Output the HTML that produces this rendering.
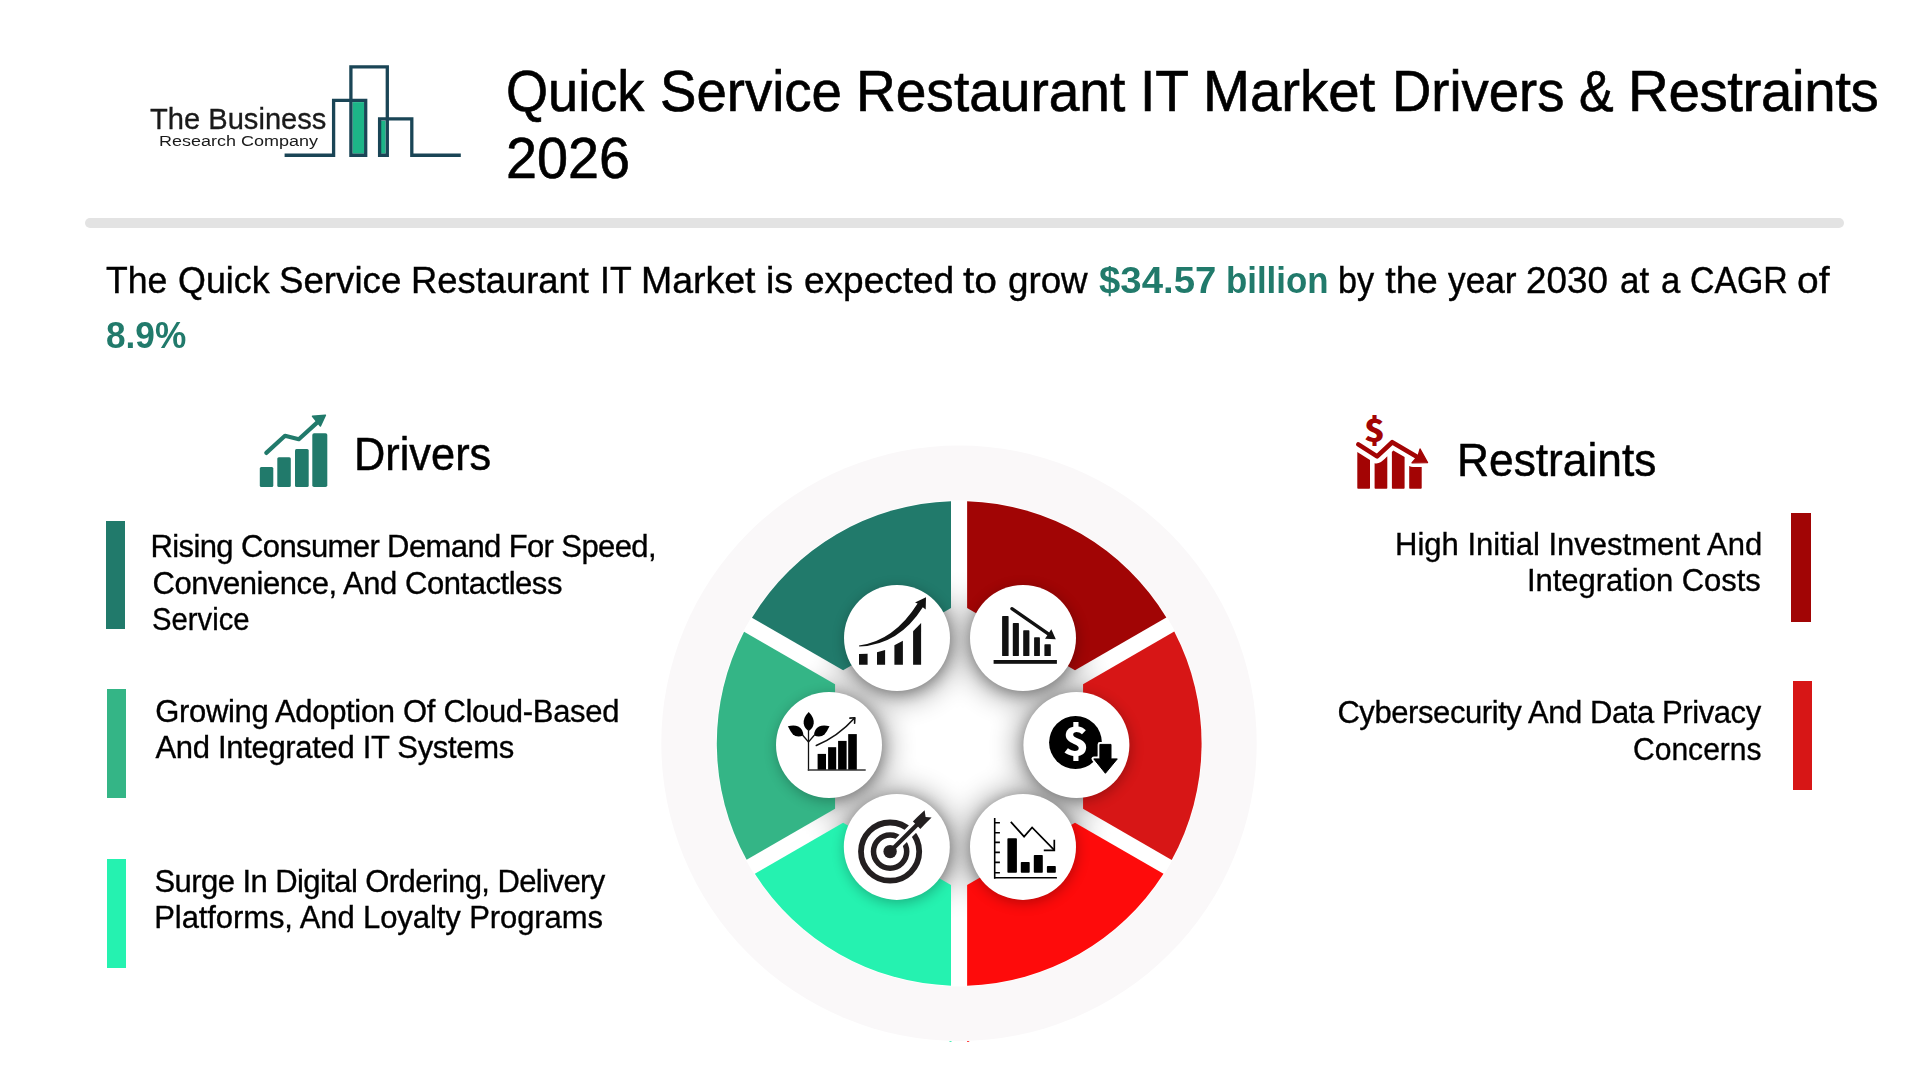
<!DOCTYPE html>
<html lang="en">
<head>
<meta charset="utf-8">
<title>Quick Service Restaurant IT Market Drivers &amp; Restraints 2026</title>
<style>
html,body{margin:0;padding:0;background:#fff;}
body{width:1920px;height:1080px;position:relative;overflow:hidden;font-family:"Liberation Sans",sans-serif;}
.abs{position:absolute;}
.t{position:absolute;transform-origin:0 0;white-space:nowrap;line-height:1;font-family:"Liberation Sans",sans-serif;-webkit-text-stroke:0.011em currentColor;}
.b{-webkit-text-stroke:0;}
.bar{position:absolute;}
</style>
</head>
<body>
<!-- divider -->
<div class="abs" style="left:85px;top:218px;width:1759px;height:9.5px;border-radius:5px;background:#e3e3e3"></div>

<!-- logo -->
<svg class="abs" style="left:280px;top:55px" width="190" height="110" viewBox="280 55 190 110">
  <rect x="352.5" y="102.1" width="11.5" height="51.5" fill="#1db588"/>
  <rect x="381" y="120.7" width="4.6" height="32.9" fill="#1db588"/>
  <g fill="none" stroke="#1a4556" stroke-width="3.3" stroke-linejoin="miter" stroke-linecap="butt">
    <path d="M284.6,155.25 H333.6 V100.45 H365.7 V155.25 H350.9 V66.95 H387.3 V155.25 H379.6 V118.9 H411.8 V155.25 H460.8"/>
  </g>
</svg>

<!-- drivers icon -->
<svg class="abs" style="left:250px;top:405px" width="90" height="90" viewBox="250 405 90 90">
  <g fill="#217a6b">
    <rect x="259.8" y="467" width="13.5" height="20.1" rx="1.5"/>
    <rect x="277.3" y="457.3" width="13.5" height="29.8" rx="1.5"/>
    <rect x="295" y="449" width="13.7" height="38.1" rx="1.5"/>
    <rect x="312.3" y="433.2" width="15" height="53.9" rx="1.8"/>
    <path d="M325.4,415.2 L312.5,416.3 L320.4,425.9 Z" stroke="#217a6b" stroke-width="1.5" stroke-linejoin="round"/>
  </g>
  <path d="M266.3,452.9 L285,435.8 L298.8,439.2 L319,420.9" fill="none" stroke="#217a6b" stroke-width="4.2" stroke-linecap="round" stroke-linejoin="round"/>
</svg>

<!-- restraints icon -->
<svg class="abs" style="left:1345px;top:405px" width="90" height="90" viewBox="1345 405 90 90">
  <g fill="#a30404">
    <path d="M1357.3,452.1 L1370,460 V488 Q1370,488.75 1369.2,488.75 H1358.1 Q1357.3,488.75 1357.3,488 Z"/>
    <path d="M1374.6,463.3 Q1379.5,465 1387.3,456.25 V488 Q1387.3,488.75 1386.5,488.75 H1375.4 Q1374.6,488.75 1374.6,488 Z"/>
    <path d="M1391.9,452 L1393.3,450.4 L1404.6,457 V488 Q1404.6,488.75 1403.8,488.75 H1392.7 Q1391.9,488.75 1391.9,488 Z"/>
    <path d="M1409.2,466 Q1411,467 1413,467 H1421.7 V488 Q1421.7,488.75 1420.9,488.75 H1410 Q1409.2,488.75 1409.2,488 Z"/>
    <path d="M1427.6,462.6 L1420,448.9 L1418.2,455.5 L1411.9,462.8 Z" stroke="#a30404" stroke-width="1.2" stroke-linejoin="round"/>
  </g>
  <path d="M1358.3,444.4 L1377.1,456.4 L1392.2,442.2 L1419,458" fill="none" stroke="#a30404" stroke-width="4.6" stroke-linecap="round" stroke-linejoin="round"/>
  <text transform="translate(1374.6 0) scale(1.1 1) translate(-1374.6 0)" x="1374.6" y="441.6" text-anchor="middle" font-family="Noto Sans CJK JP, Liberation Sans, sans-serif" font-weight="900" font-size="31.6" fill="#a30404">$</text>
</svg>

<!-- left bars -->
<div class="bar" style="left:105.5px;top:520.75px;width:19.5px;height:108.5px;background:#217a6b"></div>
<div class="bar" style="left:106.75px;top:688.75px;width:19px;height:109.25px;background:#34b586"></div>
<div class="bar" style="left:106.75px;top:859.25px;width:19px;height:108.75px;background:#25f2b0"></div>
<!-- right bars -->
<div class="bar" style="left:1791.25px;top:513px;width:19.25px;height:108.75px;background:#a10505"></div>
<div class="bar" style="left:1792.5px;top:681.25px;width:19.5px;height:108.75px;background:#d71616"></div>

<svg class="abs" style="left:0;top:0" width="1920" height="1080" viewBox="0 0 1920 1080">
<defs><filter id="sh" x="-0.6" y="-0.6" width="2.2" height="2.2"><feGaussianBlur stdDeviation="15"/></filter>
<filter id="sh2" x="-0.6" y="-0.6" width="2.2" height="2.2"><feGaussianBlur stdDeviation="7"/></filter></defs>
<circle cx="959.0" cy="743.3" r="297.7" fill="#faf8f9"/>
<rect x="949.5" y="1041" width="2" height="1" fill="#4af0b8"/><rect x="967" y="1041" width="2.2" height="1" fill="#ff4a4a"/>
<circle cx="959.2" cy="743.4" r="243.1" fill="#fff"/>
<g opacity="0.44">
<circle cx="897" cy="640" r="57" fill="#000" filter="url(#sh)"/>
<circle cx="1023" cy="640" r="57" fill="#000" filter="url(#sh)"/>
<circle cx="829" cy="747" r="57" fill="#000" filter="url(#sh)"/>
<circle cx="1076.4" cy="747" r="57" fill="#000" filter="url(#sh)"/>
<circle cx="896.8" cy="848.9" r="57" fill="#000" filter="url(#sh)"/>
<circle cx="1023" cy="848.9" r="57" fill="#000" filter="url(#sh)"/>
</g>
<path d="M951.00,607.96 L951.00,501.14 A242.4,242.4 0 0 0 751.97,617.65 L843.10,670.26 Z" fill="#217a6b"/>
<path d="M835.05,684.20 L744.08,631.68 A242.4,242.4 0 0 0 746.61,859.86 L835.05,808.80 Z" fill="#34b586"/>
<path d="M843.10,822.74 L754.81,873.71 A242.4,242.4 0 0 0 951.00,985.66 L951.00,885.04 Z" fill="#25f2b0"/>
<path d="M1075.00,670.26 L1166.35,617.52 A242.4,242.4 0 0 0 967.10,501.13 L967.10,607.96 Z" fill="#a10505"/>
<path d="M1083.05,808.80 L1171.72,859.99 A242.4,242.4 0 0 0 1174.25,631.55 L1083.05,684.20 Z" fill="#d71616"/>
<path d="M967.10,885.04 L967.10,985.67 A242.4,242.4 0 0 0 1163.51,873.84 L1075.00,822.74 Z" fill="#fe0b0b"/>
<g opacity="0.28">
<circle cx="898" cy="641" r="53" fill="#000" filter="url(#sh2)"/>
<circle cx="1024" cy="641" r="53" fill="#000" filter="url(#sh2)"/>
<circle cx="830" cy="748" r="53" fill="#000" filter="url(#sh2)"/>
<circle cx="1077.4" cy="748" r="53" fill="#000" filter="url(#sh2)"/>
<circle cx="897.8" cy="849.9" r="53" fill="#000" filter="url(#sh2)"/>
<circle cx="1024" cy="849.9" r="53" fill="#000" filter="url(#sh2)"/>
</g>
<circle cx="897" cy="638" r="53" fill="#fff"/>
<circle cx="1023" cy="638" r="53" fill="#fff"/>
<circle cx="829" cy="745" r="53" fill="#fff"/>
<circle cx="1076.4" cy="745" r="53" fill="#fff"/>
<circle cx="896.8" cy="846.9" r="53" fill="#fff"/>
<circle cx="1023" cy="846.9" r="53" fill="#fff"/>
<!-- icon TL: growth bars + curved arrow -->
<g fill="#111">
  <path d="M859,653.9 L867.6,653.7 V664.7 H859 Z"/>
  <path d="M877,652.2 L885.1,650 V664.7 H877 Z"/>
  <path d="M894.4,645.2 L902.9,640.8 V664.7 H894.4 Z"/>
  <path d="M913.1,631.3 L921.1,623 V664.7 H913.1 Z"/>
  <path d="M859,645.6 Q894,641 917.6,603.6 L915,602.6 L926,597.3 L925.7,609.4 L922.8,607.3 Q899,645 859.2,646.6 Z"/>
</g>
<!-- icon TR: declining bars + arrow -->
<g fill="#111">
  <rect x="993.6" y="660" width="63.3" height="3.8"/>
  <rect x="1002.1" y="616.1" width="6.5" height="40" rx="0.7"/>
  <rect x="1012.8" y="623" width="6.1" height="33.1" rx="0.7"/>
  <rect x="1023.2" y="630.2" width="6.2" height="25.9" rx="0.7"/>
  <rect x="1034.1" y="637.2" width="5.8" height="18.9" rx="0.7"/>
  <rect x="1044.4" y="644.3" width="6.4" height="11.8" rx="0.7"/>
  <path d="M1055.8,639.2 L1051.3,629.3 L1045,638.7 Z"/>
</g>
<path d="M1011.9,608.7 L1049,634.4" fill="none" stroke="#111" stroke-width="3.4" stroke-linecap="round"/>
<!-- icon L: plant + bars + arrow -->
<g fill="#000">
  <rect x="817.6" y="753.9" width="8.4" height="16.1"/>
  <rect x="828.1" y="747.2" width="8.1" height="22.8"/>
  <rect x="838.1" y="740.9" width="8.5" height="29.1"/>
  <rect x="848.2" y="734.1" width="8.6" height="35.9"/>
  <path d="M808.7,712 Q814.2,717.5 813.7,723.5 Q813,728.5 808.7,731 Q804.4,728.5 803.7,723.5 Q803.2,717.5 808.7,712 Z"/>
  <path d="M787.9,726.3 Q794,724.6 798.3,726.5 Q803.2,729 803.3,735.6 Q796.5,737.8 792.8,734.2 Q790.3,731.5 787.9,726.3 Z"/>
  <path d="M829.5,726.3 Q823.4,724.6 819.1,726.5 Q814.2,729 814.1,735.6 Q820.9,737.8 824.6,734.2 Q827.1,731.5 829.5,726.3 Z"/>
</g>
<g fill="none" stroke="#111" stroke-width="1.3">
  <path d="M808.5,729 V770.6"/>
  <path d="M807.8,770 H865.7" stroke="#333"/>
  <path d="M802.5,735 L808.5,742 L814.5,735"/>
</g>
<g fill="none" stroke="#111" stroke-width="1.6" stroke-linecap="round" stroke-linejoin="round">
  <path d="M816.3,745.5 Q838,736.5 854.6,718"/>
  <path d="M849.9,718.1 L854.8,717.8 L854.6,723.2"/>
</g>
<!-- icon R: dollar disc + down arrow -->
<circle cx="1075.5" cy="742.5" r="26.4" fill="#000"/>
<path d="M1099.9,744.4 H1111 V758.9 H1117.3 L1105.4,773.3 L1093.8,758.9 H1099.9 Z" fill="#000" stroke="#fff" stroke-width="4.6" stroke-linejoin="round"/>
<path d="M1099.9,744.4 H1111 V758.9 H1117.3 L1105.4,773.3 L1093.8,758.9 H1099.9 Z" fill="#000" stroke="#000" stroke-width="1" stroke-linejoin="round"/>
<text transform="translate(1076 0) scale(1.1 1) translate(-1076 0)" x="1076" y="756.5" text-anchor="middle" font-family="Noto Sans CJK JP, Liberation Sans, sans-serif" font-weight="900" font-size="39.4" fill="#fff">$</text>
<!-- icon BL: target -->
<g fill="none" stroke="#231f20">
  <circle cx="890.1" cy="851.6" r="29.1" stroke-width="5.8"/>
  <circle cx="890.1" cy="851.6" r="16.6" stroke-width="5.5"/>
</g>
<path d="M896.5,845.2 L921,820.7" stroke="#fff" stroke-width="10.2" fill="none"/>
<circle cx="890.1" cy="851.6" r="6.7" fill="#231f20"/>
<path d="M890.1,851.6 L919.5,822.2" stroke="#231f20" stroke-width="4.2" fill="none"/>
<path d="M912.9,821.5 L917.6,816.8 L924.6,810.2 L925.6,816.9 L931.6,817.4 L924.8,824.2 L920.3,828.9 L918.5,827 Z" fill="#231f20"/>
<!-- icon BR: axis chart declining -->
<g fill="none" stroke="#000" stroke-width="1.6">
  <path d="M994.7,818 V878.6"/>
  <path d="M994,877.8 H1056.9"/>
  <path d="M994.7,822.8 H999.9 M994.7,832.7 H999.9 M994.7,842.4 H999.9 M994.7,852.4 H999.9 M994.7,862.4 H999.9 M994.7,872.7 H999.9"/>
  <path d="M1010.8,821.9 L1024.1,836.6 L1032.1,827.4 L1054.3,850.2" stroke-width="1.7"/>
  <path d="M1054.3,839.7 V850.4 H1043.8" stroke-width="1.7"/>
</g>
<g fill="#000">
  <rect x="1007.4" y="838.2" width="9.5" height="34.5" rx="0.8"/>
  <rect x="1020.8" y="861.9" width="8.9" height="10.8" rx="0.8"/>
  <rect x="1033.8" y="855" width="9" height="17.7" rx="0.8"/>
  <rect x="1046.9" y="866.1" width="8.9" height="6.6" rx="0.8"/>
</g>

</svg>

<div id="txt" style="position:absolute;left:0;top:0;width:1920px;height:1080px;will-change:transform">
<div class="t" style="left:506.08px;top:64px;font-size:56.5px;transform:scaleX(0.9580);color:#000;">Quick</div>
<div class="t" style="left:660.07px;top:64px;font-size:56.5px;transform:scaleX(0.9658);color:#000;">Service</div>
<div class="t" style="left:855.80px;top:64px;font-size:56.5px;transform:scaleX(0.9743);color:#000;">Restaurant</div>
<div class="t" style="left:1140.11px;top:64px;font-size:56.5px;transform:scaleX(0.9773);color:#000;">IT</div>
<div class="t" style="left:1203.21px;top:64px;font-size:56.5px;transform:scaleX(0.9976);color:#000;">Market</div>
<div class="t" style="left:1391.95px;top:64px;font-size:56.5px;transform:scaleX(0.9636);color:#000;">Drivers</div>
<div class="t" style="left:1579.16px;top:64px;font-size:56.5px;transform:scaleX(0.9200);color:#000;">&amp;</div>
<div class="t" style="left:1628.00px;top:64px;font-size:56.5px;letter-spacing:-0.389px;color:#000;">Restraints</div>
<div class="t" style="left:506.27px;top:131px;font-size:56.5px;transform:scaleX(0.9877);color:#000;">2026</div>
<div class="t" style="left:106.30px;top:262px;font-size:37.7px;transform:scaleX(0.9437);color:#000;">The</div>
<div class="t" style="left:177.75px;top:262px;font-size:37.7px;transform:scaleX(0.9510);color:#000;">Quick</div>
<div class="t" style="left:279.35px;top:262px;font-size:37.7px;transform:scaleX(0.9730);color:#000;">Service</div>
<div class="t" style="left:410.81px;top:262px;font-size:37.7px;transform:scaleX(0.9643);color:#000;">Restaurant</div>
<div class="t" style="left:599.67px;top:262px;font-size:37.7px;transform:scaleX(0.9433);color:#000;">IT</div>
<div class="t" style="left:640.72px;top:262px;font-size:37.7px;transform:scaleX(0.9937);color:#000;">Market</div>
<div class="t" style="left:766.31px;top:262px;font-size:37.7px;transform:scaleX(0.9958);color:#000;">is</div>
<div class="t" style="left:803.72px;top:262px;font-size:37.7px;transform:scaleX(0.9820);color:#000;">expected</div>
<div class="t" style="left:963.30px;top:262px;font-size:37.7px;transform:scaleX(1.0833);color:#000;">to</div>
<div class="t" style="left:1007.52px;top:262px;font-size:37.7px;transform:scaleX(0.9753);color:#000;">grow</div>
<div class="t" style="left:1337.88px;top:262px;font-size:37.7px;transform:scaleX(0.9079);color:#000;">by</div>
<div class="t" style="left:1385.30px;top:262px;font-size:37.7px;transform:scaleX(1.0000);color:#000;">the</div>
<div class="t" style="left:1447.50px;top:262px;font-size:37.7px;transform:scaleX(0.9356);color:#000;">year</div>
<div class="t" style="left:1526.05px;top:262px;font-size:37.7px;transform:scaleX(0.9765);color:#000;">2030</div>
<div class="t" style="left:1620.37px;top:262px;font-size:37.7px;transform:scaleX(0.9258);color:#000;">at</div>
<div class="t" style="left:1661.13px;top:262px;font-size:37.7px;transform:scaleX(0.9200);color:#000;">a</div>
<div class="t" style="left:1690.20px;top:262px;font-size:37.7px;transform:scaleX(0.8981);color:#000;">CAGR</div>
<div class="t" style="left:1796.97px;top:262px;font-size:37.7px;transform:scaleX(1.0323);color:#000;">of</div>
<div class="t b" style="left:1098.98px;top:262px;font-size:37.7px;transform:scaleX(1.0177);color:#217a6b;font-weight:700;">$34.57</div>
<div class="t b" style="left:1225.65px;top:262px;font-size:37.7px;transform:scaleX(0.9234);color:#217a6b;font-weight:700;">billion</div>
<div class="t b" style="left:106.07px;top:317px;font-size:37.7px;transform:scaleX(0.9333);color:#217a6b;font-weight:700;">8.9%</div>
<div class="t" style="left:354.05px;top:432px;font-size:45.7px;transform:scaleX(0.9486);color:#000;">Drivers</div>
<div class="t" style="left:1457.09px;top:438px;font-size:45.7px;transform:scaleX(0.9697);color:#000;">Restraints</div>
<div class="t" style="left:150.50px;top:531px;font-size:31px;letter-spacing:-0.609px;color:#000;">Rising Consumer Demand For Speed,</div>
<div class="t" style="left:152.50px;top:568px;font-size:31px;letter-spacing:-0.456px;color:#000;">Convenience, And Contactless</div>
<div class="t" style="left:152.06px;top:604px;font-size:31px;transform:scaleX(0.9436);color:#000;">Service</div>
<div class="t" style="left:155.25px;top:696px;font-size:31px;letter-spacing:-0.325px;color:#000;">Growing Adoption Of Cloud-Based</div>
<div class="t" style="left:155.50px;top:732px;font-size:31px;letter-spacing:-0.323px;color:#000;">And Integrated IT Systems</div>
<div class="t" style="left:154.50px;top:866px;font-size:31px;letter-spacing:-0.574px;color:#000;">Surge In Digital Ordering, Delivery</div>
<div class="t" style="left:154.25px;top:902px;font-size:31px;letter-spacing:-0.092px;color:#000;">Platforms, And Loyalty Programs</div>
<div class="t" style="left:1395.00px;top:529px;font-size:31px;letter-spacing:0.008px;color:#000;">High Initial Investment And</div>
<div class="t" style="left:1527.00px;top:565px;font-size:31px;letter-spacing:-0.037px;color:#000;">Integration Costs</div>
<div class="t" style="left:1337.40px;top:697px;font-size:31px;letter-spacing:-0.419px;color:#000;">Cybersecurity And Data Privacy</div>
<div class="t" style="left:1632.78px;top:734px;font-size:31px;transform:scaleX(0.9691);color:#000;">Concerns</div>
<div class="t" style="left:150.40px;top:104px;font-size:29.6px;transform:scaleX(0.9838);color:#1a1a1a;">The Business</div>
<div class="t b" style="left:158.82px;top:133px;font-size:15.2px;transform:scaleX(1.1850);color:#1a1a1a;">Research Company</div>
</div>
</body>
</html>
